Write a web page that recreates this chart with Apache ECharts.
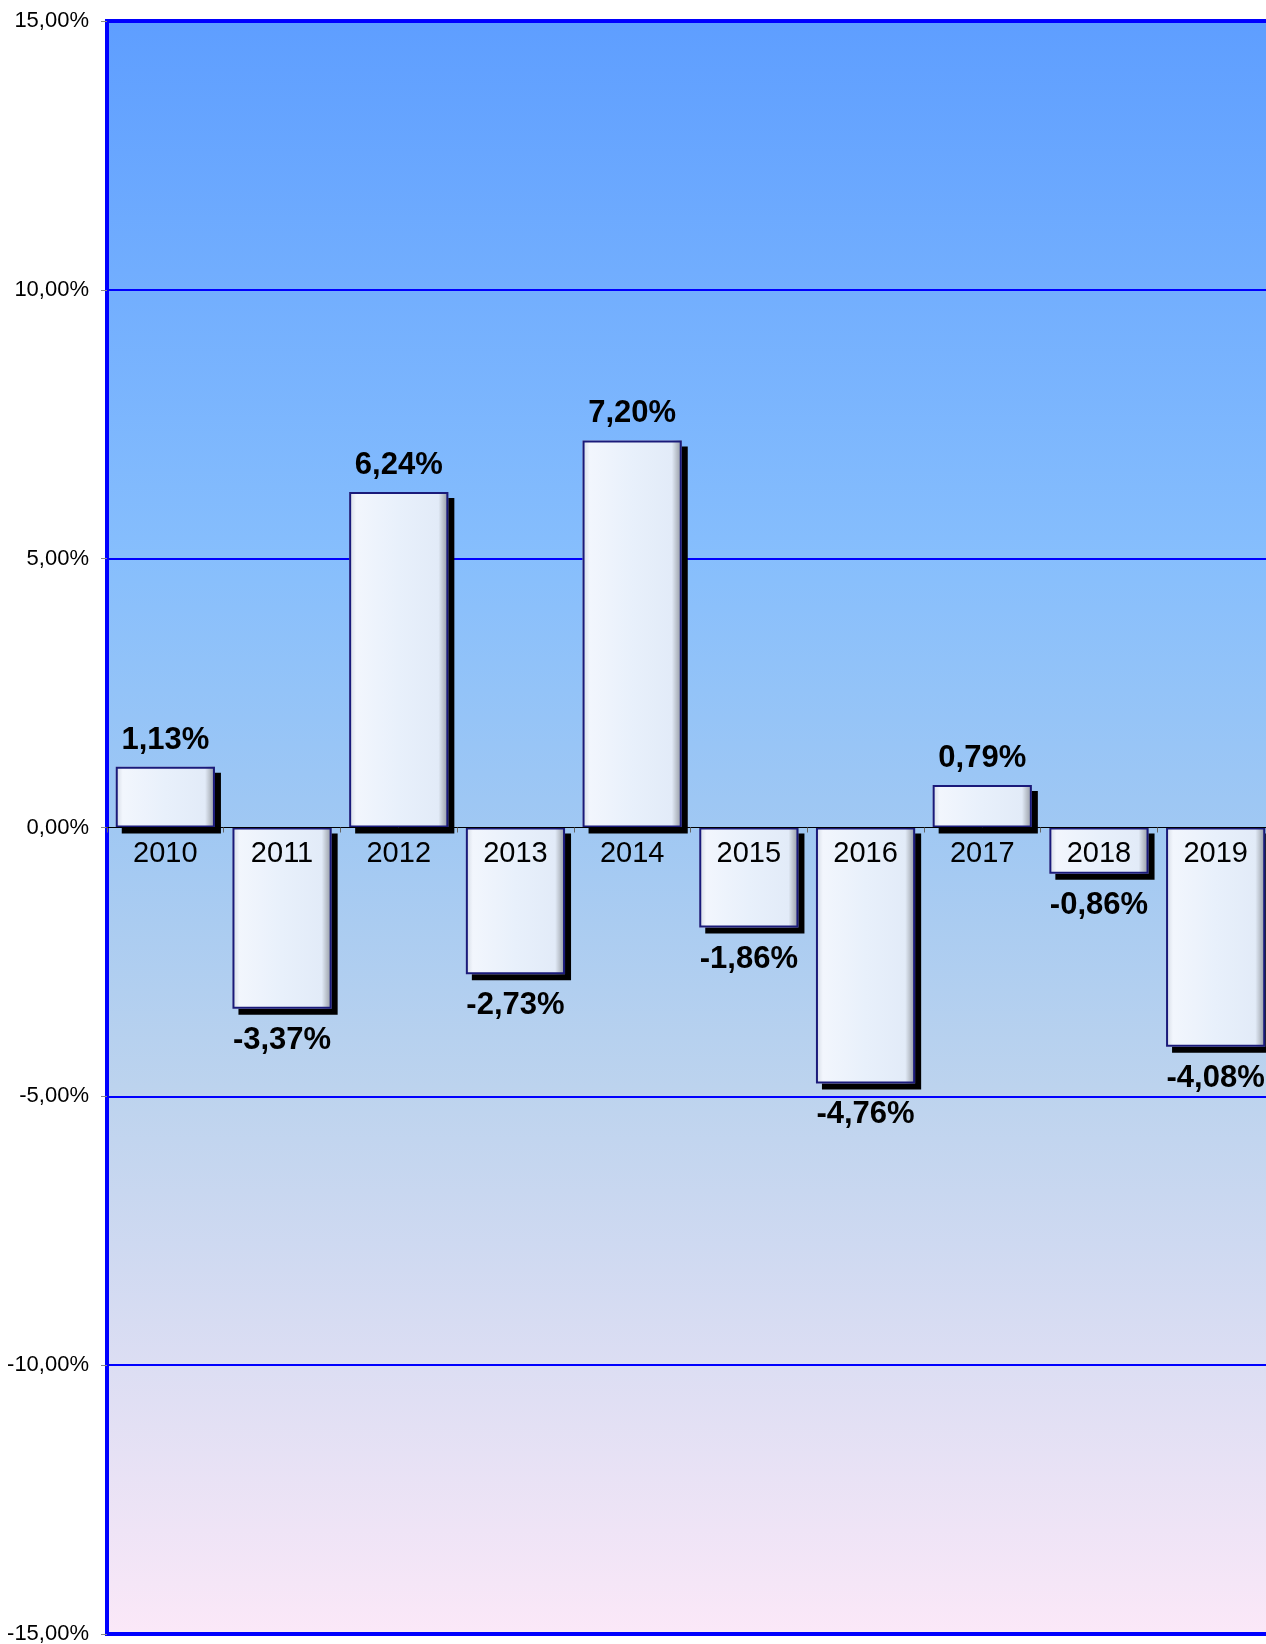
<!DOCTYPE html>
<html>
<head>
<meta charset="utf-8">
<script src="https://cdn.jsdelivr.net/npm/echarts@6/dist/echarts.min.js"></script>
<style>
html,body{margin:0;padding:0;background:#fff;overflow:hidden;}
#chart{width:1274px;height:1644px;}
</style>
</head>
<body>
<div id="chart"></div>
<script>
const categories = ['2010','2011','2012','2013','2014','2015','2016','2017','2018','2019'];
const values = [1.13, -3.37, 6.24, -2.73, 7.20, -1.86, -4.76, 0.79, -0.86, -4.08];
const yTicks = { min: -15, max: 15, interval: 5 };

const fmt = v => v.toFixed(2).replace('.', ',') + '%';
const FONT = '"Liberation Sans", Arial, sans-serif';

const chart = echarts.init(document.getElementById('chart'));

const barFill = new echarts.graphic.LinearGradient(0, 0, 1, 0, [
  { offset: 0, color: '#d3d9e3' },
  { offset: 0.07, color: '#f2f6fd' },
  { offset: 0.5, color: '#e8f0fb' },
  { offset: 0.9, color: '#e2ebf8' },
  { offset: 0.95, color: '#b9c0ca' },
  { offset: 1, color: '#8f96a1' }
]);

chart.setOption({
  animation: false,
  grid: {
    left: 107, top: 21, right: 0, bottom: 10,
    outerBoundsMode: 'none',
    containLabel: false,
    show: true,
    borderColor: '#0000ff',
    borderWidth: 4,
    backgroundColor: new echarts.graphic.LinearGradient(0, 0, 0, 1, [
      { offset: 0, color: '#5e9eff' },
      { offset: 0.33, color: '#86befd' },
      { offset: 0.5, color: '#a0c8f3' },
      { offset: 0.66, color: '#bcd3ee' },
      { offset: 1, color: '#fbe8f8' }
    ])
  },
  xAxis: {
    type: 'category',
    data: categories,
    z: 10,
    axisLine: { onZero: true, lineStyle: { color: '#000', width: 1 } },
    axisTick: { show: true, length: 5, lineStyle: { color: '#666' } },
    axisLabel: { show: false },
    splitLine: { show: false }
  },
  yAxis: {
    type: 'value',
    min: yTicks.min, max: yTicks.max, interval: yTicks.interval,
    axisLine: { show: false },
    axisTick: { show: true, length: 6, lineStyle: { color: '#888' } },
    axisLabel: {
      fontFamily: FONT, fontSize: 22, color: '#000', margin: 18,
      formatter: v => fmt(v)
    },
    splitLine: {
      show: true,
      lineStyle: {
        width: 2,
        color: ['#0000ff', '#0000ff', '#0000ff', 'rgba(0,0,0,0)', '#0000ff', '#0000ff', '#0000ff']
      }
    }
  },
  series: [
    {
      type: 'bar',
      barCategoryGap: '15%',
      barGap: '-100%',
      z: 2,
      data: values,
      itemStyle: {
        color: barFill,
        borderWidth: 0,
        shadowColor: '#000',
        shadowBlur: 0,
        shadowOffsetX: 6,
        shadowOffsetY: 6
      },
      silent: true
    },
    {
      type: 'bar',
      barCategoryGap: '15%',
      barGap: '-100%',
      z: 3,
      data: values.map(v => ({
        value: v,
        label: {
          position: v >= 0 ? 'top' : 'bottom',
          distance: v >= 0 ? 11 : 16
        }
      })),
      itemStyle: {
        color: 'rgba(0,0,0,0)',
        borderColor: '#1a1a7a',
        borderWidth: 2
      },
      label: {
        show: true,
        fontFamily: FONT,
        fontWeight: 'bold',
        fontSize: 31,
        color: '#000',
        formatter: p => fmt(p.value)
      }
    },
    {
      type: 'bar',
      barGap: '-100%',
      z: 4,
      data: categories.map(() => 0),
      itemStyle: { color: 'rgba(0,0,0,0)' },
      label: {
        show: true,
        position: 'bottom',
        distance: 12,
        fontFamily: FONT,
        fontSize: 29,
        color: '#000',
        formatter: p => categories[p.dataIndex]
      },
      silent: true
    }
  ]
});
</script>
</body>
</html>
